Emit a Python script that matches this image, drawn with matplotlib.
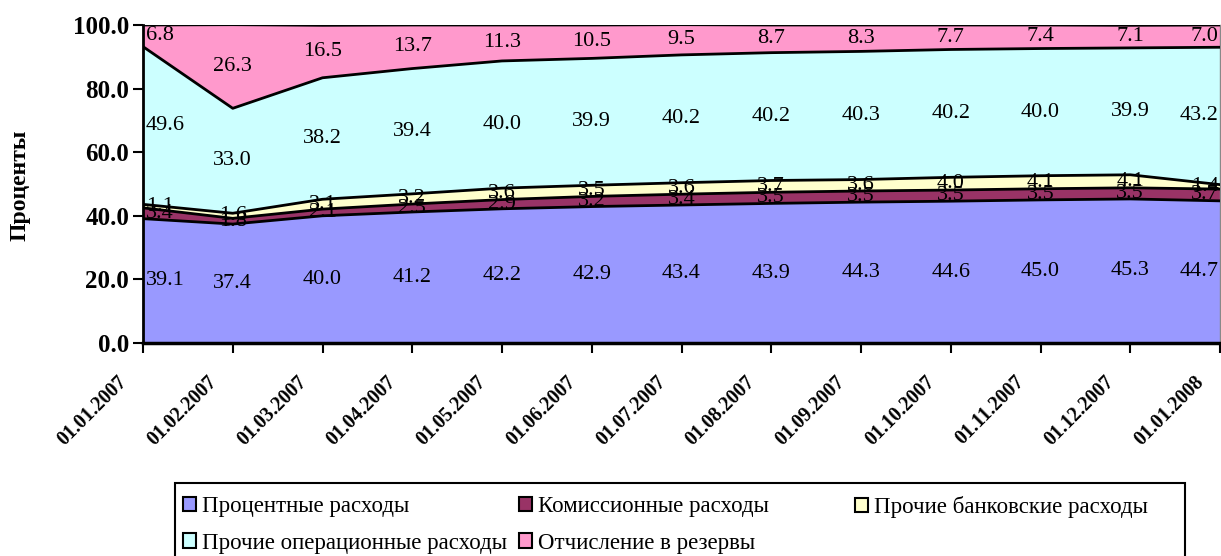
import matplotlib.pyplot as plt
import matplotlib.transforms as mtransforms
from matplotlib.patches import Rectangle
import numpy as np

plt.rcParams['font.family'] = ['Liberation Serif', 'DejaVu Serif']

dates = ["01.01.2007", "01.02.2007", "01.03.2007", "01.04.2007", "01.05.2007",
         "01.06.2007", "01.07.2007", "01.08.2007", "01.09.2007", "01.10.2007",
         "01.11.2007", "01.12.2007", "01.01.2008"]

interest = [39.1, 37.4, 40.0, 41.2, 42.2, 42.9, 43.4, 43.9, 44.3, 44.6, 45.0, 45.3, 44.7]
commission = [3.4, 1.8, 2.1, 2.5, 2.9, 3.2, 3.4, 3.5, 3.5, 3.5, 3.5, 3.5, 3.7]
other_bank = [1.1, 1.6, 3.1, 3.2, 3.6, 3.5, 3.6, 3.7, 3.6, 4.0, 4.1, 4.1, 1.4]
other_oper = [49.6, 33.0, 38.2, 39.4, 40.0, 39.9, 40.2, 40.2, 40.3, 40.2, 40.0, 39.9, 43.2]
reserves = [6.8, 26.3, 16.5, 13.7, 11.3, 10.5, 9.5, 8.7, 8.3, 7.7, 7.4, 7.1, 7.0]

series = [interest, commission, other_bank, other_oper, reserves]
names = ["Процентные расходы", "Комиссионные расходы", "Прочие банковские расходы",
         "Прочие операционные расходы", "Отчисление в резервы"]
colors = ["#9999FF", "#993366", "#FFFFCC", "#CCFFFF", "#FF99CC"]

W, H = 1221, 556
fig = plt.figure(figsize=(W / 100, H / 100), dpi=100)
ax = fig.add_axes([143 / W, 1 - 343 / H, 1077 / W, 318 / H])

x = np.arange(len(dates))
bottom = np.zeros(len(dates))
handles = []
for vals, name, col in zip(series, names, colors):
    vals = np.array(vals)
    top = bottom + vals
    h = ax.fill_between(x, bottom, top, facecolor=col, edgecolor='none', label=name)
    ax.plot(x, top, color='black', lw=2, zorder=3)
    handles.append(h)
    # value labels centred in each band
    for i, v in enumerate(vals):
        ymid = bottom[i] + v / 2
        if i == 0:
            ax.annotate(f"{v:.1f}", (x[i], ymid), xytext=(2, 0), textcoords='offset points',
                        ha='left', va='center', fontsize=16, zorder=5)
        elif i == len(vals) - 1:
            ax.annotate(f"{v:.1f}", (x[i], ymid), xytext=(-1, 0), textcoords='offset points',
                        ha='right', va='center', fontsize=16, zorder=5)
        else:
            ax.text(x[i], ymid, f"{v:.1f}", ha='center', va='center', fontsize=16, zorder=5)
    bottom = top

ax.set_xlim(0, len(dates) - 1)
ax.set_ylim(0, 100)
yt = np.arange(0, 101, 20)
ax.set_yticks(yt)
ax.set_yticklabels([f"{t:.1f}" for t in yt], fontsize=18, fontweight='bold')
ax.set_xticks(x)
ax.set_xticklabels(dates, rotation=45, ha='right', rotation_mode='anchor',
                   fontsize=14.3, fontweight='bold')
ax.tick_params(axis='both', direction='out', length=7, width=1.5, color='black')
ax.tick_params(axis='x', pad=14)
ax.tick_params(axis='y', pad=3)
shift = mtransforms.ScaledTranslation(-0.26, 0, fig.dpi_scale_trans)
for lbl in ax.get_xticklabels():
    lbl.set_transform(lbl.get_transform() + shift)

ax.spines['top'].set_visible(False)
ax.spines['right'].set_color('#888888')
ax.spines['right'].set_linewidth(1)
ax.spines['left'].set_linewidth(2)
ax.spines['bottom'].set_linewidth(2.5)

fig.text(20 / W, 1 - 185 / H, "Проценты", rotation=90, ha='center', va='center',
         fontsize=17, fontweight='bold')

# legend: frame plus three columns laid out in rows
fig.add_artist(Rectangle((175 / W, -0.1), (1185 - 175) / W, 0.1 + (1 - 483 / H),
                         transform=fig.transFigure, facecolor='white',
                         edgecolor='black', lw=1.5, zorder=1))
columns = [[0, 3], [1, 4], [2]]
col_x = [183, 519, 855]
for idx, cx in zip(columns, col_x):
    leg = fig.legend([handles[i] for i in idx], [names[i] for i in idx],
                     loc='upper left', bbox_to_anchor=(cx / W, 1 - 496 / H),
                     ncol=1, fontsize=16.5, frameon=False,
                     handlelength=0.57, handleheight=0.57, handletextpad=0.25,
                     labelspacing=0.68, borderpad=0, borderaxespad=0)
    leg.set_zorder(2)
    for p in leg.legend_handles:
        p.set_edgecolor('black')
        p.set_linewidth(1.5)

fig.savefig('out.png', dpi=100)
